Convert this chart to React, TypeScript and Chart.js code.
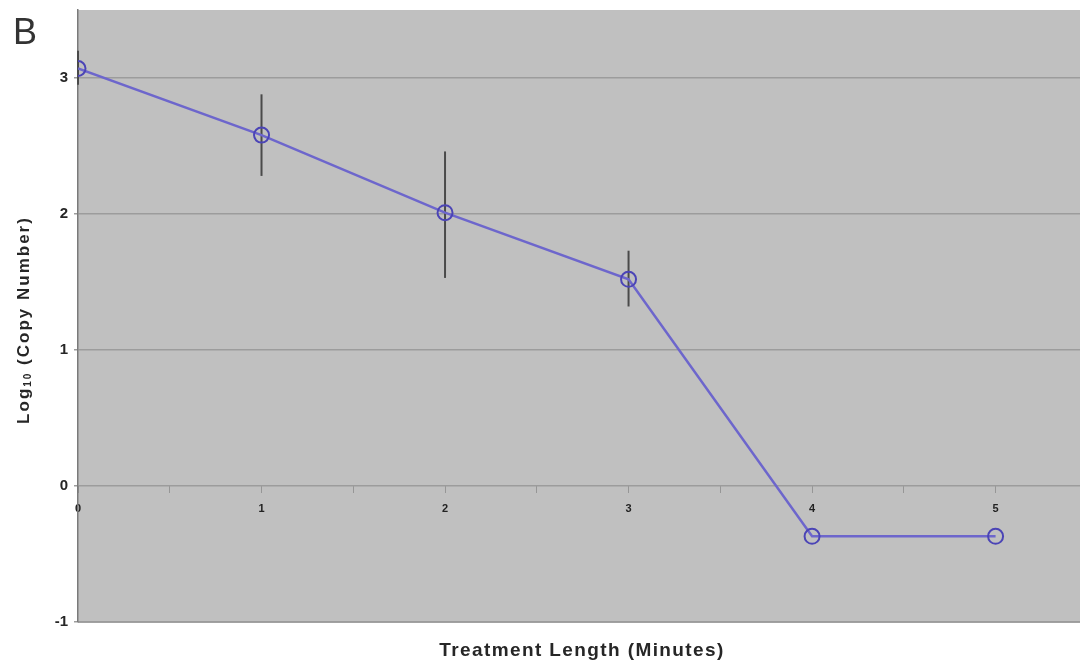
import { useEffect, useRef } from "react";
import { Chart, registerables } from "chart.js";

Chart.register(...registerables);

const minutes = [0, 1, 2, 3, 4, 5];
const logCopies = [3.07, 2.58, 2.01, 1.52, -0.37, -0.37];
const errUpper: (number | null)[] = [3.2, 2.88, 2.46, 1.73, null, null];
const errLower: (number | null)[] = [2.95, 2.28, 1.53, 1.32, null, null];
const yTicks = [-1, 0, 1, 2, 3];
const xTicks = [0, 0.5, 1, 1.5, 2, 2.5, 3, 3.5, 4, 4.5, 5];
const panelLabel = "B";
const xTitle = "Treatment Length (Minutes)";
const yTitleMain = "Log";
const yTitleSub = "10";
const yTitleRest = " (Copy Number)";

const FONT = "'Liberation Sans', Arial, sans-serif";

const decorPlugin = {
  id: "decor",
  beforeDraw(chart: any) {
    const { ctx, chartArea } = chart;
    ctx.save();
    ctx.fillStyle = "#ffffff";
    ctx.fillRect(0, 0, chart.width, chart.height);
    ctx.fillStyle = "#c0c0c0";
    ctx.fillRect(chartArea.left, chartArea.top, chartArea.right - chartArea.left, chartArea.bottom - chartArea.top);
    ctx.strokeStyle = "#a9a9a9";
    ctx.lineWidth = 2;
    ctx.beginPath();
    ctx.moveTo(chartArea.left, chartArea.bottom);
    ctx.lineTo(chartArea.right, chartArea.bottom);
    ctx.stroke();
    ctx.restore();
  },
  afterDraw(chart: any) {
    const { ctx } = chart;
    ctx.save();
    ctx.fillStyle = "#333333";
    ctx.font = `36px ${FONT}`;
    ctx.textAlign = "left";
    ctx.textBaseline = "middle";
    ctx.fillText(panelLabel, 13, 34);

    ctx.fillStyle = "#262626";
    ctx.font = `bold 19px ${FONT}`;
    (ctx as any).letterSpacing = "1.4px";
    ctx.textAlign = "center";
    ctx.fillText(xTitle, 582, 651);

    // rotated y title with subscript
    ctx.translate(24, 320);
    ctx.rotate(-Math.PI / 2);
    ctx.textAlign = "left";
    ctx.textBaseline = "middle";
    (ctx as any).letterSpacing = "2px";
    ctx.font = `bold 17px ${FONT}`;
    const w1 = ctx.measureText(yTitleMain).width;
    ctx.font = `bold 10px ${FONT}`;
    const w2 = ctx.measureText(yTitleSub).width;
    ctx.font = `bold 17px ${FONT}`;
    const w3 = ctx.measureText(yTitleRest).width;
    let x = -(w1 + w2 + w3) / 2;
    ctx.fillText(yTitleMain, x, 0);
    x += w1;
    ctx.font = `bold 10px ${FONT}`;
    ctx.fillText(yTitleSub, x, 4);
    x += w2;
    ctx.font = `bold 17px ${FONT}`;
    ctx.fillText(yTitleRest, x, 0);
    ctx.restore();
  },
};

const errorBarPlugin = {
  id: "errorBars",
  beforeDatasetsDraw(chart: any) {
    const { ctx } = chart;
    const xs = chart.scales.x;
    const ys = chart.scales.y;
    ctx.save();
    ctx.strokeStyle = "#4a4a4a";
    ctx.lineWidth = 2;
    minutes.forEach((m, i) => {
      const hi = errUpper[i];
      const lo = errLower[i];
      if (hi == null || lo == null) return;
      const px = xs.getPixelForValue(m);
      ctx.beginPath();
      ctx.moveTo(px, ys.getPixelForValue(hi));
      ctx.lineTo(px, ys.getPixelForValue(lo));
      ctx.stroke();
    });
    ctx.restore();
  },
};

export default function App() {
  const canvasRef = useRef<HTMLCanvasElement | null>(null);

  useEffect(() => {
    const canvas = canvasRef.current;
    if (!canvas) return;
    const chart = new Chart(canvas, {
      type: "scatter",
      data: {
        datasets: [
          {
            data: minutes.map((m, i) => ({ x: m, y: logCopies[i] })),
            showLine: true,
            borderColor: "#6d66cc",
            borderWidth: 2.5,
            pointRadius: 7.5,
            pointHoverRadius: 7.5,
            pointBorderWidth: 2,
            pointBorderColor: "#4b44b6",
            pointBackgroundColor: "rgba(0,0,0,0)",
          },
        ],
      },
      options: {
        responsive: false,
        animation: false,
        layout: { autoPadding: false, padding: { top: 10, right: 0, bottom: 44, left: 0 } },
        plugins: { legend: { display: false }, tooltip: { enabled: false } },
        scales: {
          x: {
            type: "linear",
            position: { y: 0 } as any,
            min: 0,
            max: 5.46,
            afterBuildTicks: (scale: any) => {
              scale.ticks = xTicks.map((v) => ({ value: v }));
            },
            afterFit: (scale: any) => {
              scale.paddingLeft = 0;
              scale.paddingRight = 0;
            },
            grid: { drawOnChartArea: false, drawTicks: true, tickLength: 7, color: "#969696" },
            border: { display: false },
            ticks: {
              autoSkip: false,
              maxRotation: 0,
              padding: 9,
              color: "#222222",
              font: { family: FONT, size: 11, weight: "bold" },
              callback: (v: any) => (Number.isInteger(Number(v)) ? String(v) : ""),
            },
          },
          y: {
            type: "linear",
            min: -1,
            max: 3.5,
            afterBuildTicks: (scale: any) => {
              scale.ticks = yTicks.map((v) => ({ value: v }));
            },
            afterFit: (scale: any) => {
              scale.width = 78;
              scale.paddingTop = 0;
              scale.paddingBottom = 0;
            },
            grid: { color: "#9c9c9c", lineWidth: 1.5, drawTicks: true, tickLength: 4 },
            border: { display: true, color: "#7a7a7a", width: 1.5 },
            ticks: {
              padding: 6,
              color: "#262626",
              font: { family: FONT, size: 15, weight: "bold" },
            },
          },
        },
      },
      plugins: [decorPlugin, errorBarPlugin],
    });
    return () => chart.destroy();
  }, []);

  return (
    <div style={{ position: "fixed", left: 0, top: 0, width: 1080, height: 666, background: "#fff" }}>
      <canvas ref={canvasRef} width={1080} height={666} />
    </div>
  );
}
